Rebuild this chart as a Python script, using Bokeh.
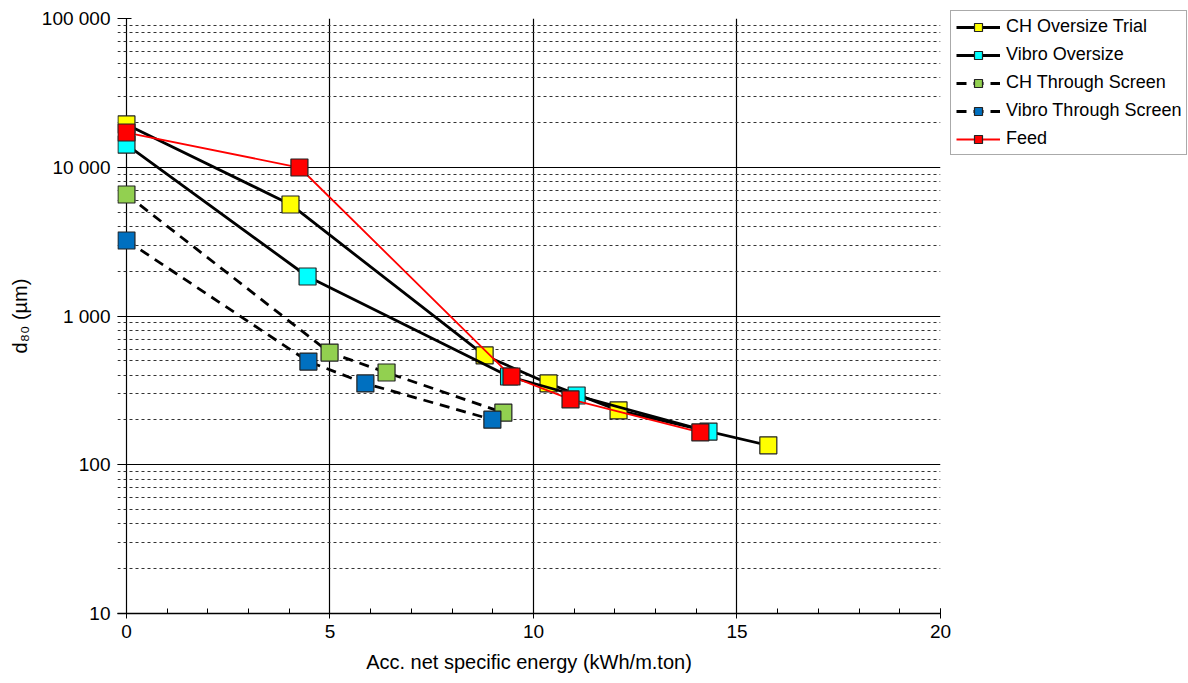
from bokeh.plotting import figure
from bokeh.models import FixedTicker, Legend, LegendItem, Range1d
from bokeh.embed import file_html
from bokeh.resources import INLINE

# ---- data ----
ch_over_x = [0.0, 4.03, 8.80, 10.37, 12.09, 15.77]
ch_over_y = [19400, 5620, 543, 352, 232, 135]

vib_over_x = [0.0, 4.45, 9.40, 11.06, 14.30]
vib_over_y = [14200, 1843, 392, 292, 167]

ch_thr_x = [0.0, 4.99, 6.39, 9.26]
ch_thr_y = [6560, 568, 417, 224]

vib_thr_x = [0.0, 4.47, 5.87, 8.99]
vib_thr_y = [3218, 494, 352, 201]

feed_x = [0.0, 4.25, 9.46, 10.91, 14.10]
feed_y = [17120, 9960, 392, 275, 165]

y_ticks = [10, 100, 1000, 10000, 100000]
y_tick_labels = ["10", "100", "1 000", "10 000", "100 000"]
x_ticks = [0, 5, 10, 15, 20]

FONT = "Liberation Sans"

p = figure(frame_width=823, frame_height=595, y_axis_type="log",
           x_range=Range1d(-0.22, 20), y_range=Range1d(10, 100000),
           output_backend="svg", toolbar_location=None,
           min_border_left=117, min_border_top=18, min_border_bottom=70,
           min_border_right=248)
p.outline_line_color = None
p.background_fill_color = "white"
p.border_fill_color = "white"

minor_y = [m * d for d in [10, 100, 1000, 10000] for m in range(2, 10)]
p.yaxis.ticker = FixedTicker(ticks=y_ticks, minor_ticks=minor_y)
p.yaxis.major_label_overrides = {t: l for t, l in zip(y_ticks, y_tick_labels)}
p.xaxis.ticker = FixedTicker(ticks=x_ticks, minor_ticks=list(range(0, 21)))

for ax in (p.xaxis[0], p.yaxis[0]):
    ax.axis_line_color = "black"
    ax.axis_line_width = 1.5
    ax.major_tick_line_color = "black"
    ax.minor_tick_line_color = "black"
    ax.major_tick_in = 5
    ax.major_tick_out = 5
    ax.minor_tick_in = 5
    ax.minor_tick_out = 0
    ax.major_label_text_font = FONT
    ax.major_label_text_font_size = "19px"
    ax.major_label_text_color = "black"
    ax.axis_label_text_font = FONT
    ax.axis_label_text_font_size = "20px"
    ax.axis_label_text_font_style = "normal"
    ax.axis_label_text_color = "black"

p.yaxis.axis_line_color = None
p.yaxis.major_tick_in = 14
p.yaxis.major_tick_out = 0
p.yaxis.minor_tick_in = 0
p.xaxis.axis_label = "Acc. net specific energy (kWh/m.ton)"
p.yaxis.axis_label = "d\u2088\u2080 (\u00b5m)"
p.xaxis.major_label_standoff = 6
p.yaxis.major_label_standoff = 7
p.xaxis.axis_label_standoff = 10
p.yaxis.axis_label_standoff = 8

p.xgrid.grid_line_color = "black"
p.xgrid.grid_line_width = 1.2
p.ygrid.grid_line_color = "black"
p.ygrid.grid_line_width = 1.2
p.ygrid.minor_grid_line_color = "#333333"
p.ygrid.minor_grid_line_dash = "3 3"
p.ygrid.minor_grid_line_width = 1

MS = 17
series = [
    ("CH Oversize Trial", ch_over_x, ch_over_y, "black", 2.8, "solid", "#FFFF00"),
    ("Vibro Oversize", vib_over_x, vib_over_y, "black", 2.8, "solid", "#00FFFF"),
    ("CH Through Screen", ch_thr_x, ch_thr_y, "black", 2.8, "10 7", "#92D050"),
    ("Vibro Through Screen", vib_thr_x, vib_thr_y, "black", 2.8, "10 7", "#0070C0"),
    ("Feed", feed_x, feed_y, "#FF0000", 1.8, "solid", "#FF0000"),
]

items = []
for name, xs, ys, lc, lw, dash, fc in series:
    ln = p.line(xs, ys, line_color=lc, line_width=lw, line_dash=dash)
    sc = p.scatter(xs, ys, marker="square", size=MS, fill_color=fc,
                   line_color="#222222", line_width=1.2)
    items.append(LegendItem(label=name, renderers=[ln, sc]))

legend = Legend(items=items, location=(10, 458), margin=0,
                label_text_font=FONT, label_text_font_size="18px",
                label_text_color="black", glyph_width=44, glyph_height=20,
                spacing=7, padding=5, border_line_color="#555555",
                border_line_width=1.5, label_standoff=6)
p.add_layout(legend, "right")

open("out.html", "w").write(file_html(p, INLINE))
